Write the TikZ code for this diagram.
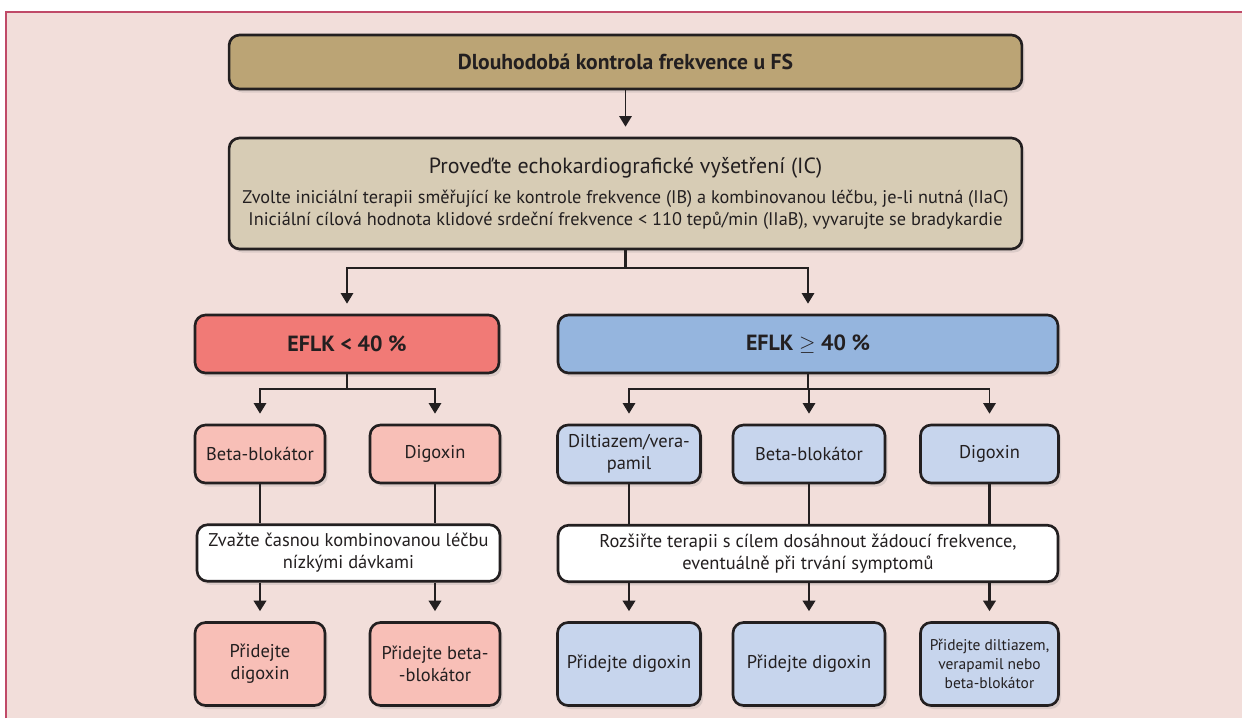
\documentclass[tikz,border=0pt]{standalone}
\usepackage{fontspec}
\setmainfont{PT Sans}
\usepackage{xcolor}
\definecolor{fsframe}{RGB}{242,222,218}
\definecolor{fsborder}{RGB}{192,74,104}
\definecolor{fstan}{RGB}{187,164,117}
\definecolor{fsbeige}{RGB}{215,204,181}
\definecolor{fsred}{RGB}{241,122,118}
\definecolor{fsredlight}{RGB}{248,191,183}
\definecolor{fsblue}{RGB}{149,181,222}
\definecolor{fsbluelight}{RGB}{199,213,237}
\definecolor{fsdark}{RGB}{35,31,32}
\usetikzlibrary{arrows.meta,positioning,shadows,calc}

\begin{document}
\begin{tikzpicture}[x=0.02cm, y=-0.02cm,
    box/.style={rectangle, rounded corners=6pt, draw=fsdark, line width=1.5pt,
                align=center, text=fsdark, inner sep=2pt,
                drop shadow={opacity=0.2, shadow xshift=1.5pt, shadow yshift=-2pt}},
    headbox/.style={box, minimum width=15.86cm, font=\fontsize{12.3}{14}\selectfont\bfseries},
    efbox/.style={box, minimum height=1.16cm, font=\fontsize{12.5}{14}\selectfont\bfseries},
    drugbox/.style={box, minimum height=1.16cm, font=\fontsize{10.5}{12.5}\selectfont},
    notebox/.style={box, fill=white, minimum height=1.13cm, font=\fontsize{10.5}{12.5}\selectfont},
    addbox/.style={box, minimum height=1.66cm, font=\fontsize{10.5}{12.5}\selectfont},
    stem/.style={draw=fsdark, line width=1.6pt},
    branch/.style={draw=fsdark, line width=1.1pt},
    arr/.style={-{Triangle[width=7pt, length=6pt]}, draw=fsdark, shorten >=0.2cm}
  ]
    \useasboundingbox (0,0) rectangle (1242,718);
    % frame
    \fill[fsframe] (6,12) rectangle (1242,718);
    \draw[fsborder, line width=1.2pt] (6,718) -- (6,12) -- (1242,12);

    % top
    \node[headbox, fill=fstan, minimum height=1.08cm] (head) at (625.5, 62)
      {Dlouhodobá kontrola frekvence u FS};
    \node[headbox, fill=fsbeige, minimum height=2.22cm, font=\fontsize{10.4}{12.3}\selectfont] (echo) at (625.5, 193.5)
      {{\fontsize{12.5}{15}\selectfont Proveďte echokardiografické vyšetření (IC)}\\[5pt]
       Zvolte iniciální terapii směřující ke kontrole frekvence (IB) a kombinovanou léčbu, je-li nutná (IIaC)\\
       Iniciální cílová hodnota klidové srdeční frekvence < 110 tepů/min (IIaB), vyvarujte se bradykardie};
    \draw[arr, line width=1.1pt] (head.south) -- (echo.north);

    % EF split
    \node[efbox, fill=fsred, minimum width=6.08cm] (lowef) at (347, 344) {EFLK < 40 \%};
    \node[efbox, fill=fsblue, minimum width=10cm] (highef) at (808, 344) {EFLK $\geq$ 40 \%};
    \coordinate (split) at (625.5, 268);
    \draw[stem] (echo.south) -- (split);
    \draw[branch, arr] (split) -| (lowef.north);
    \draw[branch, arr] (split) -| (highef.north);

    % EFLK < 40 %
    \node[drugbox, fill=fsredlight, minimum width=2.6cm] (bb1) at (260, 454) {Beta-blokátor};
    \node[drugbox, fill=fsredlight, minimum width=2.6cm] (dg1) at (435, 454) {Digoxin};
    \coordinate (splitlow) at (347, 389);
    \draw[stem] (lowef.south) -- (splitlow);
    \draw[branch, arr] (splitlow) -| (bb1.north);
    \draw[branch, arr] (splitlow) -| (dg1.north);

    \node[notebox, minimum width=6.06cm] (note1) at (348.5, 553)
      {Zvažte časnou kombinovanou léčbu\\nízkými dávkami};
    \draw[stem] (bb1.south) -- (bb1.south |- note1.north);
    \draw[stem] (dg1.south) -- (dg1.south |- note1.north);

    \node[addbox, fill=fsredlight, minimum width=2.6cm] (add1) at (260, 664) {Přidejte\\digoxin};
    \node[addbox, fill=fsredlight, minimum width=2.6cm] (add2) at (435, 664) {Přidejte beta-\\-blokátor};
    \draw[stem, arr] (add1.north |- note1.south) -- (add1.north);
    \draw[stem, arr] (add2.north |- note1.south) -- (add2.north);

    % EFLK >= 40 %
    \node[drugbox, fill=fsbluelight, minimum width=2.86cm] (dil) at (629, 454) {Diltiazem/vera-\\pamil};
    \node[drugbox, fill=fsbluelight, minimum width=3.04cm] (bb2) at (809, 454) {Beta-blokátor};
    \node[drugbox, fill=fsbluelight, minimum width=2.76cm] (dg2) at (989.5, 454) {Digoxin};
    \coordinate (splithigh) at (808, 389);
    \draw[stem] (highef.south) -- (splithigh);
    \draw[branch, arr] (splithigh) -| (dil.north);
    \draw[branch, arr] (splithigh) -| (bb2.north);
    \draw[branch, arr] (splithigh) -| (dg2.north);

    \node[notebox, minimum width=10cm] (note2) at (808, 553.5)
      {Rozšiřte terapii s cílem dosáhnout žádoucí frekvence,\\eventuálně při trvání symptomů};
    \draw[stem] (dil.south) -- (dil.south |- note2.north);
    \draw[stem] (bb2.south) -- (bb2.south |- note2.north);
    \draw[stem] (dg2.south) -- (dg2.south |- note2.north);

    \node[addbox, fill=fsbluelight, minimum width=2.86cm] (add3) at (629, 664) {Přidejte digoxin};
    \node[addbox, fill=fsbluelight, minimum width=3.04cm] (add4) at (809, 664) {Přidejte digoxin};
    \node[addbox, fill=fsbluelight, minimum width=2.76cm, font=\fontsize{8.8}{11}\selectfont] (add5) at (989.5, 664)
      {Přidejte diltiazem,\\verapamil nebo\\beta-blokátor};
    \draw[stem, arr] (add3.north |- note2.south) -- (add3.north);
    \draw[stem, arr] (add4.north |- note2.south) -- (add4.north);
    \draw[stem, arr] (add5.north |- note2.south) -- (add5.north);
  \end{tikzpicture}
\end{document}
